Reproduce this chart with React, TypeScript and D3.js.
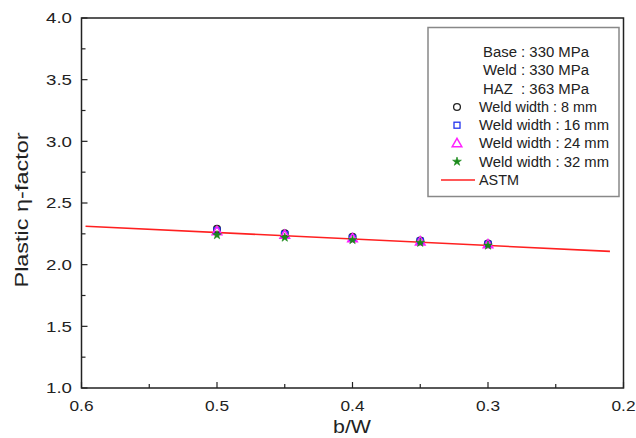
import React from "react";
import * as d3 from "d3";

const xPositions = [0.5, 0.45, 0.4, 0.35, 0.3];
const weld8 = [2.29, 2.255, 2.225, 2.195, 2.172];
const weld16 = [2.275, 2.245, 2.215, 2.19, 2.165];
const weld24 = [2.27, 2.24, 2.212, 2.187, 2.163];
const weld32 = [2.24, 2.22, 2.2, 2.178, 2.155];
const astmX = [0.597, 0.21];
const astmY = [2.312, 2.108];
const xTicks = [0.6, 0.5, 0.4, 0.3, 0.2];
const yTicks = [1.0, 1.5, 2.0, 2.5, 3.0, 3.5, 4.0];
const legendHeader = ["Base : 330 MPa", "Weld : 330 MPa", "HAZ  : 363 MPa"];
const seriesNames = ["Weld width : 8 mm", "Weld width : 16 mm", "Weld width : 24 mm", "Weld width : 32 mm"];

const W = 636, H = 438;
const left = 81.5, right = 623.5, top = 18, bottom = 388;
const FONT = "Liberation Sans, Arial, sans-serif";

const x = d3.scaleLinear().domain([0.6, 0.2]).range([left, right]);
const y = d3.scaleLinear().domain([1, 4]).range([bottom, top]);

function Marker({ kind, cx, cy }: { kind: string; cx: number; cy: number }) {
  if (kind === "circle")
    return <circle cx={cx} cy={cy} r={3.4} fill="none" stroke="#222" strokeWidth={1.3} />;
  if (kind === "square")
    return <rect x={cx - 3} y={cy - 3} width={6} height={6} fill="none" stroke="#2233ee" strokeWidth={1.3} />;
  if (kind === "triangle") {
    const p = d3.symbol(d3.symbolTriangle, 40)();
    return <path d={p as string} transform={`translate(${cx},${cy + 0.5})`} fill="none" stroke="#ff22ff" strokeWidth={1.5} />;
  }
  const s = d3.symbol(d3.symbolStar, 24)();
  return <path d={s as string} transform={`translate(${cx},${cy})`} fill="#1a8a1a" stroke="#1a8a1a" strokeWidth={0.6} />;
}

const kinds = ["circle", "square", "triangle", "star"];
const series = [weld8, weld16, weld24, weld32];

export default function App() {
  const line = d3.line<number>().x((d) => x(d)).y((_, i) => y(astmY[i]));
  const xMinor = d3.range(0.6, 0.19, -0.05);
  const yMinor = d3.range(1, 4.01, 0.25);
  const legendLens = [118, 130, 130, 130];
  return (
    <svg width={W} height={H} style={{ position: "absolute", left: 0, top: 0, background: "#fff" }}>
      <rect width={W} height={H} fill="#fff" />
      {yMinor.map((v, i) => {
        const major = Math.abs(v * 2 - Math.round(v * 2)) < 1e-6;
        return <line key={"yt" + i} x1={left} x2={left + (major ? 6 : 4)} y1={y(v)} y2={y(v)} stroke="#222" strokeWidth={1.2} />;
      })}
      {xMinor.map((v, i) => {
        const major = Math.abs(v * 10 - Math.round(v * 10)) < 1e-6;
        return <line key={"xt" + i} x1={x(v)} x2={x(v)} y1={bottom} y2={bottom - (major ? 6 : 4)} stroke="#222" strokeWidth={1.2} />;
      })}
      {yTicks.map((v) => (
        <text key={"yl" + v} x={72} y={y(v)} dy="0.36em" textAnchor="end" fontFamily={FONT} fontSize={15} fill="#222"
          textLength={26} lengthAdjust="spacingAndGlyphs">
          {v.toFixed(1)}
        </text>
      ))}
      {xTicks.map((v) => (
        <text key={"xl" + v} x={x(v)} y={410.5} textAnchor="middle" fontFamily={FONT} fontSize={15} fill="#222"
          textLength={24} lengthAdjust="spacingAndGlyphs">
          {v.toFixed(1)}
        </text>
      ))}
      <text x={352} y={433} textAnchor="middle" fontFamily={FONT} fontSize={18} fill="#222"
        textLength={38} lengthAdjust="spacingAndGlyphs">b/W</text>
      <text transform={`translate(28,210) rotate(-90)`} textAnchor="middle" fontFamily={FONT} fontSize={18} fill="#222"
        textLength={155} lengthAdjust="spacingAndGlyphs">
        Plastic η-factor
      </text>
      <path d={line(astmX) as string} fill="none" stroke="#ff2020" strokeWidth={1.6} />
      {series.map((vals, si) =>
        vals.map((v, i) => <Marker key={si + "-" + i} kind={kinds[si]} cx={x(xPositions[i])} cy={y(v)} />)
      )}
      <rect x={left} y={top} width={right - left} height={bottom - top} fill="none" stroke="#222" strokeWidth={1.5} />
      <rect x={428} y={27.5} width={191} height={169} fill="#fff" stroke="#888" strokeWidth={1.5} />
      {legendHeader.map((t, i) => (
        <text key={"lh" + i} x={536} y={52 + i * 18.3} dy="0.35em" textAnchor="middle" fontFamily={FONT} fontSize={14} fill="#222"
          style={{ whiteSpace: "pre" }} textLength={106} lengthAdjust="spacingAndGlyphs">
          {t}
        </text>
      ))}
      {seriesNames.map((t, i) => (
        <g key={"ls" + i}>
          <Marker kind={kinds[i]} cx={457} cy={107 + i * 18.2} />
          <text x={479} y={107 + i * 18.2} dy="0.35em" fontFamily={FONT} fontSize={14} fill="#222"
            textLength={legendLens[i]} lengthAdjust="spacingAndGlyphs">{t}</text>
        </g>
      ))}
      <line x1={441} x2={475} y1={180} y2={180} stroke="#ff2020" strokeWidth={1.6} />
      <text x={479} y={180} dy="0.35em" fontFamily={FONT} fontSize={14} fill="#222"
        textLength={40} lengthAdjust="spacingAndGlyphs">ASTM</text>
    </svg>
  );
}
